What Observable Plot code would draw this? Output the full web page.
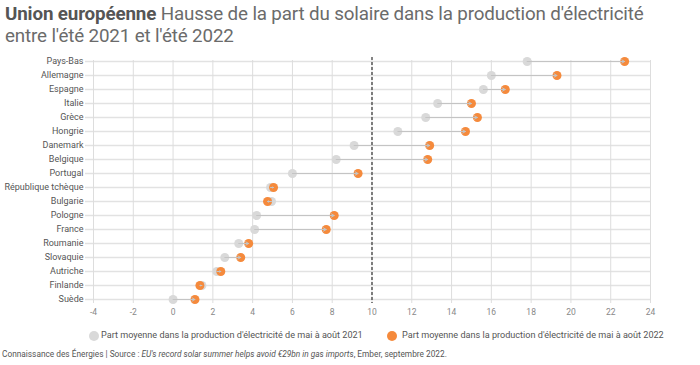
<!DOCTYPE html>
<html><head><meta charset="utf-8">
<script src="https://cdn.jsdelivr.net/npm/d3@7"></script>
<script src="https://cdn.jsdelivr.net/npm/@observablehq/plot@0.6"></script>
<style>
body{margin:0;background:#fff;font-family:Roboto,sans-serif;}
#wrap{width:700px;position:relative;}
.title{font-size:18.8px;line-height:22px;color:#6b6b6b;padding:3px 0 0 5px;height:45px;letter-spacing:-0.15px}
.title b{color:#555;font-weight:700}
.legend{height:26px;position:relative;font-size:9.1px;color:#555}
.legend span{position:absolute;top:7px;white-space:nowrap}
.legend i{position:absolute;top:8px;width:10px;height:10px;border-radius:50%}
.caption{font-size:8.3px;color:#555;padding-left:2px;margin-top:0px}
</style></head><body>
<div id="wrap">
<div class="title"><b>Union européenne</b> Hausse de la part du solaire dans la production d'électricité<br>entre l'été 2021 et l'été 2022</div>
<div id="chart"></div>
<div class="legend">
<i style="left:89px;background:#d9d9d9"></i><span style="left:101px">Part moyenne dans la production d'électricité de mai à août 2021</span>
<i style="left:387px;background:#f58a3c"></i><span style="left:402px">Part moyenne dans la production d'électricité de mai à août 2022</span>
</div>
<div class="caption">Connaissance des Énergies | Source : <i>EU's record solar summer helps avoid €29bn in gas imports</i>, Ember, septembre 2022.</div>
</div>
<script>
const countries = ["Pays-Bas","Allemagne","Espagne","Italie","Grèce","Hongrie","Danemark","Belgique","Portugal","République tchèque","Bulgarie","Pologne","France","Roumanie","Slovaquie","Autriche","Finlande","Suède"];
const share2021 = [17.8,16.0,15.6,13.3,12.7,11.3,9.1,8.2,6.0,4.9,4.95,4.2,4.1,3.3,2.6,2.2,1.45,0];
const share2022 = [22.7,19.3,16.7,15.0,15.3,14.7,12.9,12.8,9.3,5.05,4.75,8.1,7.7,3.8,3.4,2.4,1.35,1.1];
const xTicks = [-4,-2,0,2,4,6,8,10,12,14,16,18,20,22,24];
const refLine = [10];

const data = countries.map((c,i)=>({country:c, a:share2021[i], b:share2022[i]}));
const grey = "#d9d9d9", orange = "#f58a3c";

const chart = Plot.plot({
  width:700, height:275,
  marginTop:12, marginBottom:24, marginLeft:93, marginRight:50,
  style:{fontFamily:"Roboto, sans-serif", fontSize:"9px", color:"#666", background:"transparent"},
  x:{domain:[-4,24], ticks:xTicks, label:null, tickSize:0},
  y:{domain:countries, padding:0, label:null, tickSize:0},
  marks:[
    Plot.gridY(countries,{stroke:"#e2e2e2", strokeOpacity:1, strokeWidth:1.6, insetLeft:-8}),
    Plot.gridX(xTicks,{stroke:"#dddddd", strokeOpacity:1, strokeWidth:1, insetBottom:-4}),
    Plot.ruleX(refLine,{stroke:"#333", strokeDasharray:"3,2", strokeWidth:1.2, insetBottom:-4, insetTop:-3}),
    Plot.dot(data,{x:"a", y:"country", r:4.5, fill:grey}),
    Plot.dot(data,{x:"b", y:"country", r:4.5, fill:orange}),
    Plot.arrow(data,{x1:"a", x2:"b", y1:"country", y2:"country", stroke:"#c4c4c4", strokeWidth:1, headLength:5, bend:0}),
    Plot.axisX(xTicks,{tickSize:0, tickPadding:9, fill:"#888", label:null, fontSize:8.5, tickFormat:d=>String(d)}),
    Plot.axisY(countries,{tickSize:0, tickPadding:10, fill:"#555", label:null, fontSize:9})
  ]
});
document.getElementById("chart").appendChild(chart);
</script>
</body></html>
